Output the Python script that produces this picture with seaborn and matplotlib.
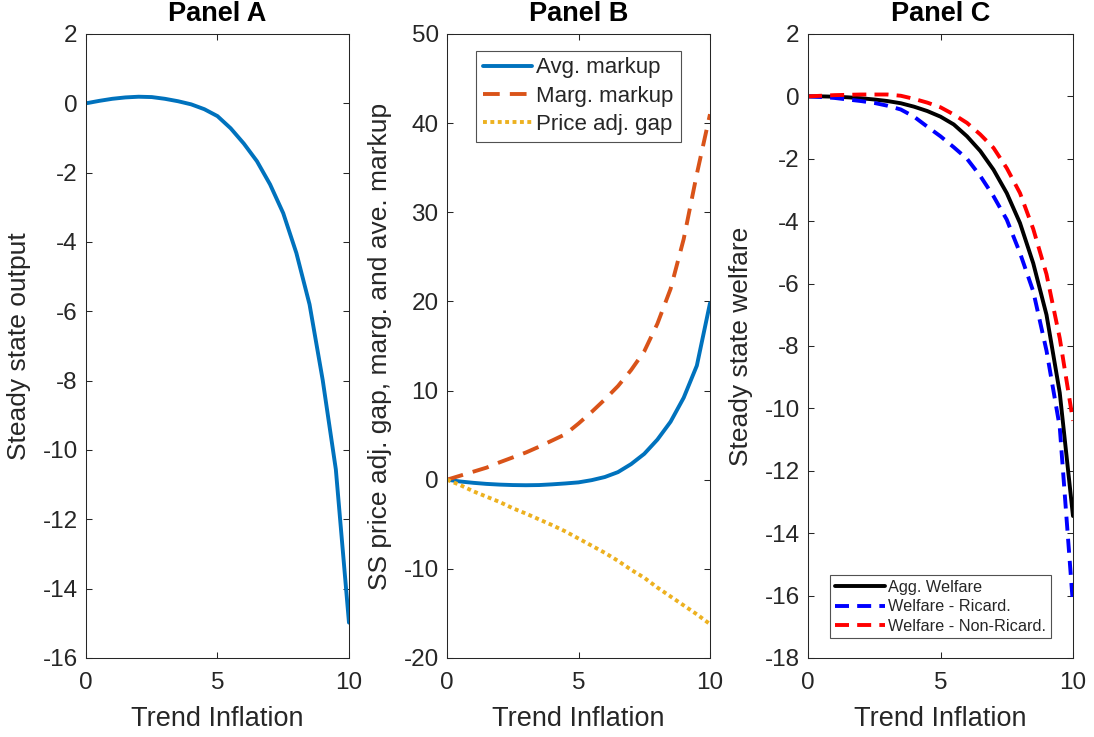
import numpy as np
import pandas as pd
import matplotlib
matplotlib.use("Agg")
import matplotlib.pyplot as plt
import seaborn as sns

# ---- data ----
trend_inflation = [0.0, 0.5, 1.0, 1.5, 2.0, 2.5, 3.0, 3.5, 4.0, 4.5, 5.0,
                   5.5, 6.0, 6.5, 7.0, 7.5, 8.0, 8.5, 9.0, 9.5, 10.0]

ss_output = [0.0, 0.07, 0.13, 0.17, 0.19, 0.18, 0.13, 0.06, -0.03, -0.17, -0.37,
             -0.72, -1.16, -1.67, -2.34, -3.17, -4.32, -5.80, -7.98, -10.56, -14.98]

avg_markup = [0.0, -0.20, -0.35, -0.47, -0.55, -0.60, -0.62, -0.60, -0.52, -0.42, -0.30,
              -0.05, 0.30, 0.85, 1.75, 2.90, 4.50, 6.50, 9.20, 12.80, 19.80]
marg_markup = [0.0, 0.45, 0.90, 1.35, 1.95, 2.50, 3.05, 3.70, 4.40, 5.10, 6.30,
               7.60, 9.00, 10.50, 12.30, 14.40, 17.50, 21.40, 27.00, 34.30, 41.00]
price_adj_gap = [0.0, -0.60, -1.30, -1.90, -2.50, -3.20, -3.80, -4.45, -5.10, -5.80, -6.60,
                 -7.40, -8.20, -9.10, -10.10, -11.00, -12.10, -13.10, -14.10, -15.10, -16.20]

agg_welfare = [0.0, 0.0, -0.01, -0.03, -0.06, -0.10, -0.15, -0.22, -0.33, -0.47, -0.65,
               -0.90, -1.28, -1.75, -2.35, -3.10, -4.06, -5.35, -7.00, -9.50, -13.45]
welfare_ricard = [0.0, -0.02, -0.05, -0.10, -0.15, -0.21, -0.30, -0.42, -0.65, -0.97, -1.28,
                  -1.63, -2.00, -2.55, -3.20, -3.95, -5.02, -6.25, -8.15, -10.60, -16.30]
welfare_nonricard = [0.0, 0.02, 0.04, 0.05, 0.06, 0.06, 0.06, 0.02, -0.08, -0.20, -0.35,
                     -0.58, -0.85, -1.22, -1.65, -2.30, -3.10, -4.25, -5.70, -7.75, -10.40]

panel_titles = ["Panel A", "Panel B", "Panel C"]
legend_b = ["Avg. markup", "Marg. markup", "Price adj. gap"]
legend_c = ["Agg. Welfare", "Welfare - Ricard.", "Welfare - Non-Ricard."]

# ---- style ----
sns.set_style("white")
plt.rcParams['font.family'] = ['Liberation Sans', 'DejaVu Sans']
plt.rcParams['axes.unicode_minus'] = False

TXT = "#262626"
fig = plt.figure(figsize=(10.94, 7.37), dpi=100)
axA = fig.add_axes([0.0786, 0.1072, 0.2404, 0.8467])
axB = fig.add_axes([0.4086, 0.1072, 0.2404, 0.8467])
axC = fig.add_axes([0.7386, 0.1072, 0.2422, 0.8467])

df = pd.DataFrame({"x": trend_inflation, "out": ss_output, "avg": avg_markup,
                   "marg": marg_markup, "gap": price_adj_gap, "agg": agg_welfare,
                   "ric": welfare_ricard, "nonric": welfare_nonricard})

LW = 2.8
# Panel A
sns.lineplot(data=df, x="x", y="out", ax=axA, color="#0072BD", lw=LW)

# Panel B
sns.lineplot(data=df, x="x", y="avg", ax=axB, color="#0072BD", lw=LW, label=legend_b[0])
sns.lineplot(data=df, x="x", y="marg", ax=axB, color="#D95319", lw=LW, label=legend_b[1])
sns.lineplot(data=df, x="x", y="gap", ax=axB, color="#EDB120", lw=LW, label=legend_b[2])
axB.lines[1].set_dashes([4.3, 2.6])
axB.lines[2].set_dashes([1.0, 0.9])

# Panel C
sns.lineplot(data=df, x="x", y="agg", ax=axC, color="black", lw=LW, label=legend_c[0])
sns.lineplot(data=df, x="x", y="ric", ax=axC, color="#0000FF", lw=LW, label=legend_c[1])
sns.lineplot(data=df, x="x", y="nonric", ax=axC, color="#FF0000", lw=LW, label=legend_c[2])
axC.lines[1].set_dashes([3.6, 2.1])
axC.lines[2].set_dashes([3.6, 2.1])

specs = [
    (axA, (-16, 2), np.arange(-16, 3, 2), "Steady state output"),
    (axB, (-20, 50), np.arange(-20, 51, 10), "SS price adj. gap, marg. and ave. markup"),
    (axC, (-18, 2), np.arange(-18, 3, 2), "Steady state welfare"),
]
for (ax, ylim, yt, ylab), title in zip(specs, panel_titles):
    ax.set_xlim(0, 10)
    ax.set_ylim(*ylim)
    ax.set_xticks([0, 5, 10])
    ax.set_yticks(yt)
    ax.set_xlabel("Trend Inflation", fontsize=19.5, color=TXT, labelpad=9)
    ax.set_ylabel(ylab, fontsize=19, color=TXT, labelpad=8)
    ax.set_title(title, fontsize=19.5, fontweight="bold", color="black", pad=9)
    ax.tick_params(direction="in", length=4.5, width=0.75, colors=TXT, labelsize=17.5,
                   top=True, right=True, bottom=True, left=True)
    ax.tick_params(axis="x", pad=10)
    ax.tick_params(axis="y", pad=6)
    for s in ax.spines.values():
        s.set_color(TXT)
        s.set_linewidth(0.75)

legB = axB.legend(loc="upper center", fontsize=16, frameon=True, fancybox=False,
                  edgecolor=TXT, handlelength=2.2, borderpad=0.3, labelspacing=0.33,
                  handletextpad=0.2, borderaxespad=0.75)
legB.get_frame().set_linewidth(0.8)
legC = axC.legend(loc="lower center", fontsize=11.7, frameon=True, fancybox=False,
                  edgecolor=TXT, handlelength=3.1, borderpad=0.3, labelspacing=0.26,
                  handletextpad=0.2, borderaxespad=1.2)
legC.get_frame().set_linewidth(0.8)

fig.savefig("out.png", dpi=100, facecolor="white")
